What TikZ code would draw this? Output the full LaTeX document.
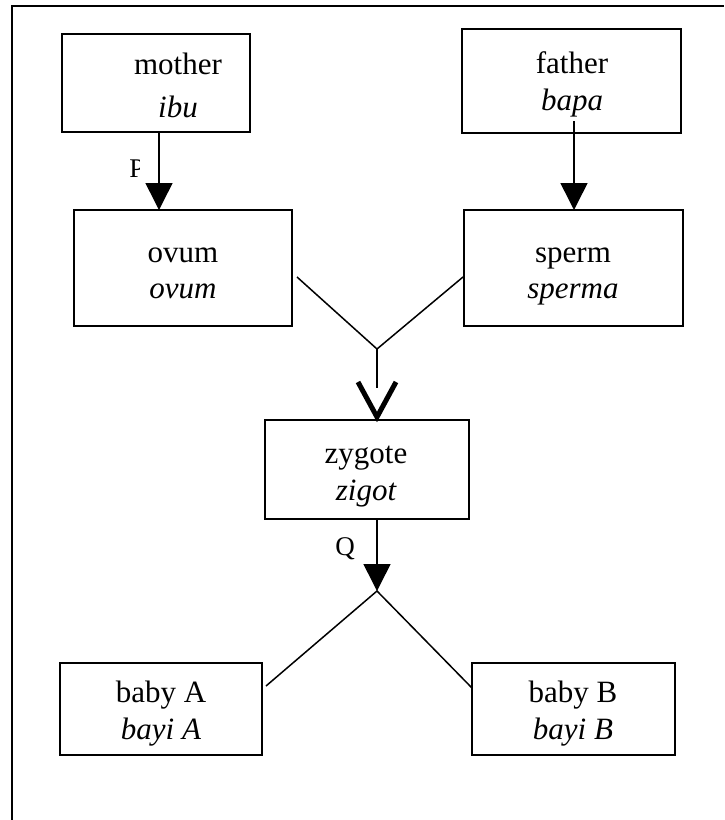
\documentclass[tikz,border=0pt]{standalone}
\usepackage{fontspec}
\setmainfont{Liberation Serif}
\usetikzlibrary{arrows.meta}
\begin{document}
\begin{tikzpicture}[x=1pt,y=-1pt,
  box/.style={draw,line width=1.6pt,rectangle,inner sep=0pt},
  txt/.style={anchor=base,inner sep=0pt,font=\fontsize{31}{37}\selectfont},
  itxt/.style={txt,font=\fontsize{31}{37}\selectfont\itshape},
  lbl/.style={anchor=base,inner sep=0pt,font=\fontsize{27}{32}\selectfont},
  conn/.style={line width=1.5pt},
  tri/.style={conn,-{Triangle[length=27pt,width=27pt]}},
  vtip/.style={line width=5pt,line cap=butt,line join=miter}]
\useasboundingbox (0,0) rectangle (724,820);
% frame (only top and left edges visible)
\draw[line width=1.8pt] (12,820) -- (12,6) -- (724,6);
% boxes
\node[box,minimum width=188pt,minimum height=98pt] (mother) at (156,83) {};
\node[box,minimum width=219pt,minimum height=104pt] (father) at (571.5,81) {};
\node[box,minimum width=218pt,minimum height=116pt] (ovum) at (183,268) {};
\node[box,minimum width=219pt,minimum height=116pt] (sperm) at (573.5,268) {};
\node[box,minimum width=204pt,minimum height=99pt] (zygote) at (367,469.5) {};
\node[box,minimum width=202pt,minimum height=92pt] (babyA) at (161,709) {};
\node[box,minimum width=203pt,minimum height=92pt] (babyB) at (573.5,709) {};
% texts
\node[txt] (t1) at (178,74) {mother};
\node[itxt] (t2) at (178,117) {ibu};
\node[txt] (t3) at (572,73) {father};
\node[itxt] (t4) at (572,110) {bapa};
\node[txt] (t5) at (183,262) {ovum};
\node[itxt] (t6) at (183,298) {ovum};
\node[txt] (t7) at (573,262) {sperm};
\node[itxt] (t8) at (573,298) {sperma};
\node[txt] (t9) at (366,463) {zygote};
\node[itxt] (t10) at (366,500) {zigot};
\node[txt] (t11) at (161,702) {baby A};
\node[itxt] (t12) at (161,739) {bayi A};
\node[txt] (t13) at (573,702) {baby B};
\node[itxt] (t14) at (573,739) {bayi B};
% labels
\begin{scope}
\clip (120,150) rectangle (139.5,185);
\node[lbl] (P) at (137,177) {P};
\end{scope}
\node[lbl] (Q) at (345,555) {Q};
% connectors
\coordinate (mo) at (159,132);
\coordinate (ov) at (159,210);
\draw[tri] (mo) -- (ov);
\coordinate (fa) at (574,121);
\coordinate (sp) at (574,210);
\draw[tri] (fa) -- (sp);
\coordinate (ovE) at (297,277);
\coordinate (spW) at (463,277);
\coordinate (merge) at (377,349);
\coordinate (mend) at (377,388);
\draw[conn] (ovE) -- (merge) -- (spW);
\draw[conn] (merge) -- (mend);
\draw[vtip] (358,382) -- (377,417) -- (396,382);
\coordinate (zs) at (377,519);
\coordinate (split) at (377,591);
\draw[tri] (zs) -- (split);
\coordinate (bA) at (266,686);
\coordinate (bB) at (472,688);
\draw[conn] (bA) -- (split) -- (bB);
\end{tikzpicture}
\end{document}
